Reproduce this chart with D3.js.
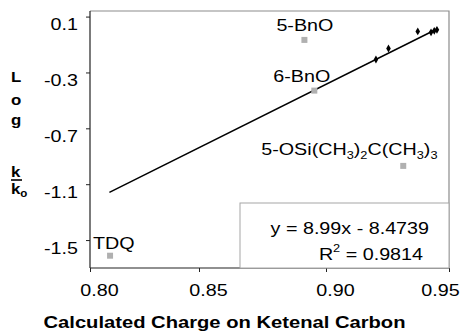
<!DOCTYPE html>
<html>
<head>
<meta charset="utf-8">
<script src="https://cdn.jsdelivr.net/npm/d3@7"></script>
<style>
  body { margin: 0; background: #fff; }
  text { font-family: "Liberation Sans", Arial, sans-serif; fill: #000; }
</style>
</head>
<body>
<div id="chart"></div>
<script>
// fitted series (black diamonds)
const fitX = [0.9203, 0.9254, 0.9373, 0.9427, 0.944, 0.9451];
const fitY = [-0.207, -0.128, -0.006, -0.013, -0.002, 0.005];

// excluded points (grey squares)
const outlierNames = ["5-BnO", "6-BnO", "5-OSi(CH3)2C(CH3)3", "TDQ"];
const outlierX = [0.8915, 0.8954, 0.9314, 0.8092];
const outlierY = [-0.067, -0.43, -0.969, -1.612];

// trendline ends as drawn
const trendX = [0.8089, 0.9455];
const trendY = [-1.158, 0.015];

const xTicks = [0.8, 0.85, 0.9, 0.95];
const yTicks = [0.1, -0.3, -0.7, -1.1, -1.5];
const equation = "y = 8.99x - 8.4739";
const rSquared = "0.9814";

const W = 461, H = 332;
const plot = { left: 90, top: 11, right: 449, bottom: 268 };
const sx = 1.16; // the original text looks stretched sideways

const svg = d3.select("#chart").append("svg")
  .attr("width", W).attr("height", H);

// x axis ticks are not evenly spaced in the original, so a piecewise scale
const x = d3.scaleLinear()
  .domain(xTicks)
  .range([plot.left, 199, 326, plot.right]);

const y = d3.scaleLinear()
  .domain([-1.7, 0.14])
  .range([plot.bottom, plot.top]);

// plot frame (grey top/right)
svg.append("path")
  .attr("d", `M${plot.left},${plot.top}H${plot.right}V${plot.bottom}`)
  .attr("fill", "none")
  .attr("stroke", "#8c8c8c")
  .attr("stroke-width", 1.2);

// Y axis
const gy = svg.append("g")
  .attr("transform", `translate(${plot.left},0)`)
  .call(d3.axisLeft(y).tickValues(yTicks).tickSize(4).tickFormat((d) => d.toFixed(1)));
gy.select(".domain").remove();
gy.append("line")
  .attr("y1", plot.top).attr("y2", plot.bottom)
  .attr("stroke", "#222").attr("stroke-width", 1.2);
gy.selectAll(".tick line").attr("stroke", "#222");
gy.selectAll(".tick text")
  .attr("x", 0).attr("y", 0).attr("dy", 0)
  .attr("transform", `translate(-12,13) scale(${sx},1)`)
  .style("font-size", "17px")
  .attr("fill", "#000");

// X axis
const gx = svg.append("g")
  .attr("transform", `translate(0,${plot.bottom})`)
  .call(d3.axisBottom(x).tickValues(xTicks).tickSize(4).tickFormat((d) => d.toFixed(2)));
gx.select(".domain").remove();
gx.append("line")
  .attr("x1", plot.left).attr("x2", plot.right)
  .attr("stroke", "#222").attr("stroke-width", 1.2);
gx.selectAll(".tick line").attr("stroke", "#222");
gx.selectAll(".tick text")
  .attr("x", 0).attr("y", 0).attr("dy", 0)
  .attr("transform", (d, i) => `translate(${i === 3 ? -9 : 9},28) scale(${sx},1)`)
  .style("font-size", "17px")
  .attr("fill", "#000");

// helper for stretched text
function label(g, px, py, anchor, size, weight) {
  return g.append("text")
    .attr("transform", `translate(${px},${py}) scale(${sx},1)`)
    .attr("text-anchor", anchor)
    .style("font-size", size + "px")
    .style("font-weight", weight || "normal");
}

// x title
label(svg, (plot.left + plot.right) / 2 - 45, 328, "middle", 17.4, "bold")
  .text("Calculated Charge on Ketenal Carbon");

// y title: stacked letters
const yl = svg.append("g");
[["L", 82], ["o", 105], ["g", 125], ["k", 177]].forEach(([t, by]) => {
  label(yl, 11, by, "start", 14.5, "bold").text(t);
});
yl.append("line")
  .attr("x1", 11).attr("x2", 22)
  .attr("y1", 180).attr("y2", 180)
  .attr("stroke", "#000").attr("stroke-width", 1.6);
const ko = label(yl, 11, 194, "start", 14.5, "bold");
ko.append("tspan").text("k");
ko.append("tspan").attr("dy", 3).style("font-size", "10px").text("o");

// equation box
svg.append("rect")
  .attr("x", 240).attr("y", 203)
  .attr("width", plot.right - 240).attr("height", plot.bottom - 203)
  .attr("fill", "#fff")
  .attr("stroke", "#a6a6a6")
  .attr("stroke-width", 1);

// trendline
svg.append("line")
  .attr("x1", x(trendX[0])).attr("y1", y(trendY[0]))
  .attr("x2", x(trendX[1])).attr("y2", y(trendY[1]))
  .attr("stroke", "#000")
  .attr("stroke-width", 1.5);

label(svg, 429, 234, "end", 17).text(equation);
const r2 = label(svg, 423, 260, "end", 17);
r2.append("tspan").text("R");
r2.append("tspan").attr("dy", -8).style("font-size", "11px").text("2");
r2.append("tspan").attr("dy", 8).text(" = " + rSquared);

// grey squares
const outliers = outlierNames.map((n, i) => ({ name: n, x: outlierX[i], y: outlierY[i] }));
svg.selectAll("rect.out")
  .data(outliers)
  .join("rect")
  .attr("class", "out")
  .attr("x", (d) => x(d.x) - 3)
  .attr("y", (d) => y(d.y) - 3)
  .attr("width", 6).attr("height", 6)
  .attr("fill", "#b0b0b0");

// black diamonds
const fit = fitX.map((v, i) => ({ x: v, y: fitY[i] }));
svg.selectAll("path.fit")
  .data(fit)
  .join("path")
  .attr("class", "fit")
  .attr("d", d3.symbol(d3.symbolDiamond, 18))
  .attr("transform", (d) => `translate(${x(d.x)},${y(d.y)})`)
  .attr("fill", "#000");

// point labels, nudged like the original
const nudge = {
  "5-BnO": [-28, -9],
  "6-BnO": [-41, -9],
  "5-OSi(CH3)2C(CH3)3": [-142, -11],
  "TDQ": [-17, -7]
};
outliers.forEach((d) => {
  const [dx, dy] = nudge[d.name];
  const t = label(svg, x(d.x) + dx, y(d.y) + dy, "start", 17);
  // digits after H or ) become subscripts
  const parts = d.name.split(/(?<=[H)])(\d)/).filter((p) => p !== "");
  let low = false;
  parts.forEach((p) => {
    const sub = /^\d$/.test(p) && low !== null && p.length === 1 && d.name.length > 6;
    const ts = t.append("tspan").text(p);
    if (sub) {
      ts.attr("dy", low ? 0 : 4).style("font-size", "11px");
      low = true;
    } else {
      ts.attr("dy", low ? -4 : 0);
      low = false;
    }
  });
});
</script>
</body>
</html>
